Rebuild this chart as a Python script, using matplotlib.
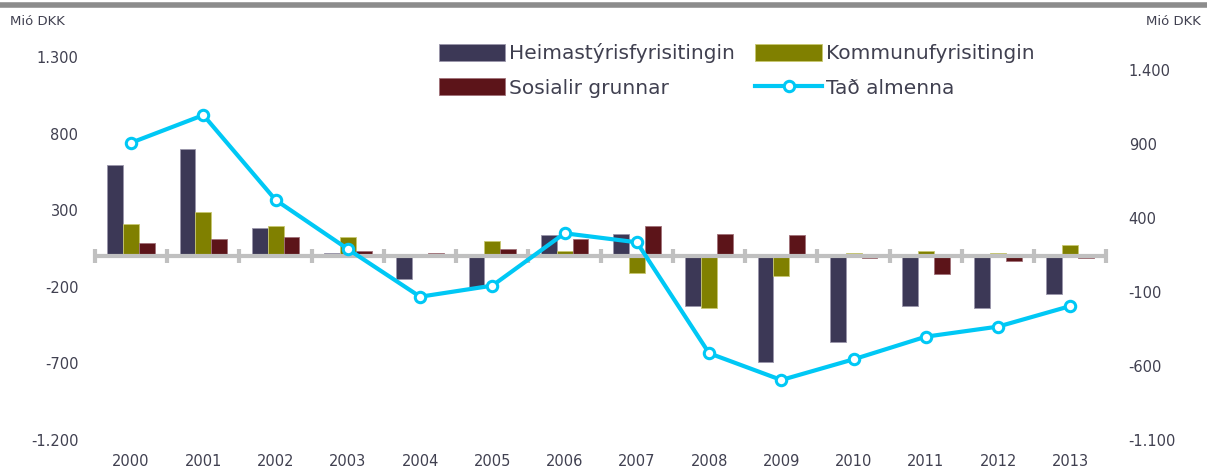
import numpy as np
import matplotlib
matplotlib.use("Agg")
import matplotlib.pyplot as plt
from matplotlib.ticker import FuncFormatter
from matplotlib.lines import Line2D

years = [str(y) for y in range(2000, 2014)]
heimastyri = [598, 698, 185, 22, -150, -206, 135, 148, -325, -690, -560, -323, -336, -245]
kommuna = [209, 286, 196, 122, 0, 98, 33, -108, -338, -130, 22, 33, 22, 72]
sosialir = [85, 111, 122, 35, 22, 50, 109, 196, 146, 135, -15, -118, -30, -15]
almenna = [909, 1096, 522, 190, -132, -57, 297, 236, -514, -695, -555, -402, -334, -195]

c_heima = "#3c3856"
c_komm = "#808000"
c_sos = "#5c1419"
c_line = "#00c8f5"
c_text = "#404050"
c_axis = "#c0c0c0"


def dk_fmt(v, pos):
    s = f"{abs(v):,.0f}".replace(",", ".")
    return "-" + s if v < 0 else s


fig = plt.figure(figsize=(12.07, 4.68), dpi=100)
ax = fig.add_axes([0.0787, 0.060, 0.838, 0.818])
ax2 = ax.twinx()

x = np.arange(len(years))
w = 0.22
ax.bar(x - w, heimastyri, w, color=c_heima, edgecolor="#9a96aa", linewidth=0.6,
       label="Heimastýrisfyrisitingin", zorder=2)
ax.bar(x, kommuna, w, color=c_komm, edgecolor="#c8c870", linewidth=0.6,
       label="Kommunufyrisitingin", zorder=2)
ax.bar(x + w, sosialir, w, color=c_sos, edgecolor="#a07078", linewidth=0.6,
       label="Sosialir grunnar", zorder=2)

# zero line with category separators
ax.axhline(0, color=c_axis, lw=3, zorder=3)
bounds = np.arange(len(years) + 1) - 0.5
ax.plot(bounds, np.zeros_like(bounds), ls="none", marker="|", ms=10, mew=3,
        color=c_axis, zorder=3, clip_on=False)

ax.set_xlim(-0.5, len(years) - 0.5)
ax.set_ylim(-1200, 1300)
ax.set_yticks([-1200, -700, -200, 300, 800, 1300])
ax.yaxis.set_major_formatter(FuncFormatter(dk_fmt))
ax.set_xticks(x)
ax.set_xticklabels(years)

ax2.plot(x, almenna, color=c_line, lw=3, marker="o", ms=7.5, mfc="white",
         mec=c_line, mew=2.2, label="Tað almenna", zorder=4)
ax2.set_ylim(-1100, 1488)
ax2.set_yticks([-1100, -600, -100, 400, 900, 1400])
ax2.yaxis.set_major_formatter(FuncFormatter(dk_fmt))

for a in (ax, ax2):
    for s in a.spines.values():
        s.set_visible(False)
    a.tick_params(length=0, labelsize=10.5, colors=c_text)
ax.tick_params(axis="y", pad=12)
ax.tick_params(axis="x", pad=10)
ax2.tick_params(axis="y", pad=16)

fig.text(0.008, 0.955, "Mió DKK", fontsize=9.5, color=c_text, va="center")
fig.text(0.995, 0.955, "Mió DKK", fontsize=9.5, color=c_text, va="center", ha="right")

# header rule
fig.add_artist(Line2D([0, 1], [0.99, 0.99], transform=fig.transFigure,
                      color="#8c8c8c", lw=4))

h1, l1 = ax.get_legend_handles_labels()
h2, l2 = ax2.get_legend_handles_labels()
# column-wise fill: Heima / Sosialir in column 1, Kommunu / almenna in column 2
handles = [h1[0], h1[2], h1[1], h2[0]]
labels = [l1[0], l1[2], l1[1], l2[0]]
leg = fig.legend(handles, labels, ncol=2, loc="upper left",
                 bbox_to_anchor=(0.357, 0.925), frameon=False, fontsize=14.5,
                 handlelength=3.3, handleheight=0.9, handletextpad=0.2,
                 columnspacing=1.0, labelspacing=0.75, borderaxespad=0)
for t in leg.get_texts():
    t.set_color(c_text)

fig.savefig("out.png", dpi=100)
